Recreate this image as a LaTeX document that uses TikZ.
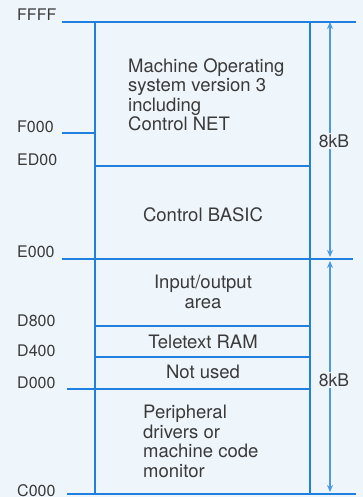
\documentclass[tikz,border=0pt]{standalone}
\usepackage{fontspec}
\setmainfont{TeX Gyre Heros}
\usetikzlibrary{arrows.meta}
\definecolor{bg}{HTML}{EEF5FB}
\definecolor{ln}{HTML}{1F80E0}
\definecolor{ar}{HTML}{4A9AE6}
\definecolor{tx}{HTML}{3A3A3A}
\begin{document}
\begin{tikzpicture}[x=1pt,y=-1pt,
  memline/.style={draw=ln,line width=2.3pt},
  sizearrow/.style={draw=ar,line width=1.1pt,{Stealth[length=7pt,width=6pt]}-{Stealth[length=7pt,width=6pt]}},
  addr/.style={anchor=base west,inner sep=0pt,text=tx,font=\fontsize{16}{18}\selectfont},
  blocktxt/.style={inner sep=0pt,text=tx,font=\fontsize{18.5}{19.5}\selectfont},
  sizelbl/.style={inner sep=1.5pt,fill=bg,text=tx,font=\fontsize{17.5}{19}\selectfont}]
\fill[bg] (0,0) rectangle (363,497);
\useasboundingbox (0,0) rectangle (363,497);
% box sides
\coordinate (tl) at (95,22);
\coordinate (bl) at (95,494);
\coordinate (tr) at (310,22);
\coordinate (br) at (310,494);
\draw[memline] (tl) -- (bl);
\draw[memline] (tr) -- (br);
% boundary lines
\coordinate (ffffA) at (62,22);   \coordinate (ffffB) at (356,22);
\coordinate (f000A) at (62,133);  \coordinate (f000B) at (95,133);
\coordinate (ed00A) at (95,166);  \coordinate (ed00B) at (310,166);
\coordinate (e000A) at (62,259);  \coordinate (e000B) at (353,259);
\coordinate (d800A) at (95,326);  \coordinate (d800B) at (310,326);
\coordinate (d400A) at (95,357);  \coordinate (d400B) at (310,357);
\coordinate (d000A) at (67,389);  \coordinate (d000B) at (310,389);
\coordinate (c000A) at (67,494);  \coordinate (c000B) at (356,494);
\draw[memline] (ffffA) -- (ffffB);
\draw[memline] (f000A) -- (f000B);
\draw[memline] (ed00A) -- (ed00B);
\draw[memline] (e000A) -- (e000B);
\draw[memline] (d800A) -- (d800B);
\draw[memline] (d400A) -- (d400B);
\draw[memline] (d000A) -- (d000B);
\draw[memline] (c000A) -- (c000B);
% address labels
\node[addr] (lffff) at (17,21) {FFFF};
\node[addr] (lf000) at (17,132) {F000};
\node[addr] (led00) at (17,165) {ED00};
\node[addr] (le000) at (17,257) {E000};
\node[addr] (ld800) at (17,326) {D800};
\node[addr] (ld400) at (17,356) {D400};
\node[addr] (ld000) at (17,388) {D000};
\node[addr] (lc000) at (17,496) {C000};
% block texts (base anchor = last line baseline)
\node[blocktxt,anchor=base west,align=left] (mos) at (128,131) {Machine Operating\\system version 3\\including\\Control NET};
\node[blocktxt,anchor=base] (basic) at (203,221) {Control BASIC};
\node[blocktxt,anchor=base,align=center] (io) at (203,308) {Input/output\\area};
\node[blocktxt,anchor=base] (ttx) at (203,348) {Teletext RAM};
\node[blocktxt,anchor=base] (nu) at (203,378) {Not used};
\node[blocktxt,anchor=base west,align=left] (per) at (143,477) {Peripheral\\drivers or\\machine code\\monitor};
% size arrows
\coordinate (a1t) at (330,22);
\coordinate (a1b) at (330,257);
\coordinate (a2t) at (330,261);
\coordinate (a2b) at (330,492);
\draw[sizearrow] (a1b) -- (a1t);
\draw[sizearrow] (a2t) -- (a2b);
\node[sizelbl] (k1) at (334,141) {8kB};
\node[sizelbl] (k2) at (334,380) {8kB};
\end{tikzpicture}
\end{document}
